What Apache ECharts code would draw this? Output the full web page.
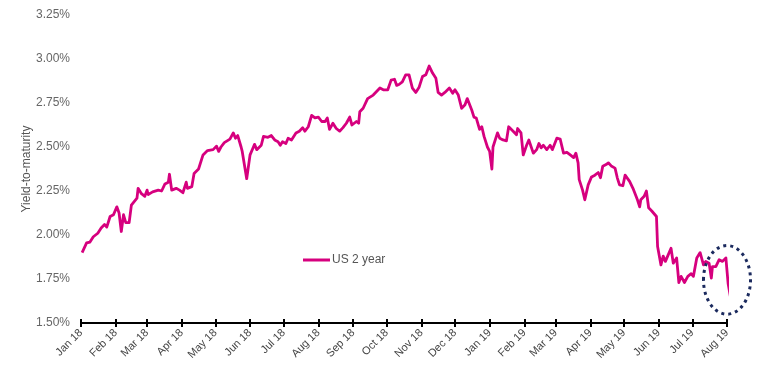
<!DOCTYPE html>
<html>
<head>
<meta charset="utf-8">
<script src="https://cdn.jsdelivr.net/npm/echarts@6/dist/echarts.min.js"></script>
<style>
  html, body { margin: 0; padding: 0; background: #ffffff; }
  #chart { width: 757px; height: 378px; }
</style>
</head>
<body>
<div id="chart"></div>
<script>
// ---- data ----
const seriesName = 'US 2 year';
const dates = [
  '2018-01-02','2018-01-06','2018-01-09','2018-01-12','2018-01-16','2018-01-19','2018-01-22','2018-01-24','2018-01-27','2018-01-30',
  '2018-02-02','2018-02-04','2018-02-06','2018-02-08','2018-02-10','2018-02-13','2018-02-15','2018-02-20','2018-02-21','2018-02-24','2018-02-27',
  '2018-03-01','2018-03-02','2018-03-06','2018-03-11','2018-03-14','2018-03-17','2018-03-20','2018-03-21','2018-03-23','2018-03-27','2018-03-30',
  '2018-04-02','2018-04-05','2018-04-06','2018-04-10','2018-04-12','2018-04-16','2018-04-20','2018-04-24','2018-04-29',
  '2018-05-02','2018-05-04','2018-05-06','2018-05-09','2018-05-14','2018-05-17','2018-05-19','2018-05-21','2018-05-24','2018-05-25','2018-05-29',
  '2018-06-01','2018-06-04','2018-06-05','2018-06-07','2018-06-11','2018-06-13','2018-06-17','2018-06-20','2018-06-23','2018-06-26','2018-06-28','2018-06-30',
  '2018-07-03','2018-07-05','2018-07-08','2018-07-12','2018-07-15','2018-07-18','2018-07-20','2018-07-23','2018-07-26','2018-07-29',
  '2018-08-01','2018-08-04','2018-08-07','2018-08-09','2018-08-11','2018-08-14','2018-08-17','2018-08-20','2018-08-23','2018-08-26','2018-08-29','2018-08-31',
  '2018-09-04','2018-09-06','2018-09-07','2018-09-10','2018-09-14','2018-09-19','2018-09-22','2018-09-25','2018-09-28',
  '2018-10-02','2018-10-05','2018-10-08','2018-10-10','2018-10-12','2018-10-15','2018-10-18','2018-10-21','2018-10-24','2018-10-27','2018-10-30',
  '2018-11-02','2018-11-05','2018-11-08','2018-11-11','2018-11-14','2018-11-16','2018-11-19','2018-11-22','2018-11-26','2018-11-29',
  '2018-12-01','2018-12-04','2018-12-07','2018-12-10','2018-12-12','2018-12-16','2018-12-18','2018-12-20','2018-12-23','2018-12-25','2018-12-27','2018-12-30',
  '2019-01-01','2019-01-03','2019-01-04','2019-01-08','2019-01-10','2019-01-13','2019-01-16','2019-01-18','2019-01-22','2019-01-25','2019-01-26','2019-01-29','2019-01-31',
  '2019-02-03','2019-02-05','2019-02-09','2019-02-12','2019-02-14','2019-02-16','2019-02-18','2019-02-21','2019-02-24','2019-02-26',
  '2019-03-02','2019-03-05','2019-03-08','2019-03-11','2019-03-14','2019-03-17','2019-03-19','2019-03-21','2019-03-22','2019-03-25','2019-03-27','2019-03-30',
  '2019-04-02','2019-04-05','2019-04-08','2019-04-10','2019-04-12','2019-04-15','2019-04-17','2019-04-20','2019-04-23','2019-04-25','2019-04-27','2019-04-30',
  '2019-05-02','2019-05-06','2019-05-09','2019-05-13','2019-05-15','2019-05-16','2019-05-19','2019-05-21','2019-05-23','2019-05-26','2019-05-30','2019-05-31',
  '2019-06-03','2019-06-05','2019-06-07','2019-06-09','2019-06-12','2019-06-14','2019-06-17','2019-06-19','2019-06-21','2019-06-24','2019-06-27','2019-06-30',
  '2019-07-02','2019-07-05','2019-07-08','2019-07-11','2019-07-13','2019-07-16','2019-07-18','2019-07-19','2019-07-22','2019-07-25','2019-07-28','2019-07-31',
  '2019-08-02','2019-08-05'
];
const yields = [
  1.90,1.955,1.96,1.99,2.01,2.04,2.06,2.045,2.105,2.115,
  2.16,2.125,2.02,2.115,2.07,2.07,2.17,2.21,2.265,2.235,2.22,
  2.255,2.23,2.245,2.255,2.25,2.29,2.30,2.345,2.255,2.265,2.255,
  2.24,2.30,2.265,2.275,2.35,2.375,2.455,2.48,2.485,
  2.505,2.475,2.50,2.525,2.545,2.58,2.55,2.565,2.50,2.475,2.32,
  2.455,2.50,2.515,2.485,2.51,2.56,2.555,2.565,2.54,2.53,2.51,2.53,
  2.52,2.55,2.54,2.58,2.59,2.61,2.59,2.615,2.68,2.665,
  2.67,2.645,2.645,2.665,2.60,2.635,2.605,2.59,2.61,2.635,2.67,2.625,
  2.645,2.635,2.70,2.72,2.775,2.795,2.815,2.835,2.825,
  2.825,2.88,2.885,2.85,2.855,2.87,2.91,2.91,2.835,2.81,2.84,
  2.90,2.91,2.96,2.92,2.89,2.81,2.795,2.81,2.835,2.805,
  2.825,2.795,2.72,2.74,2.775,2.71,2.67,2.665,2.60,2.615,2.56,2.50,
  2.475,2.375,2.50,2.58,2.55,2.54,2.535,2.615,2.59,2.57,2.605,2.58,2.455,
  2.51,2.54,2.465,2.485,2.52,2.495,2.51,2.485,2.51,2.485,
  2.55,2.545,2.465,2.47,2.455,2.44,2.465,2.41,2.315,2.255,2.20,2.285,
  2.33,2.34,2.355,2.325,2.39,2.40,2.41,2.39,2.38,2.325,2.285,2.28,
  2.34,2.305,2.265,2.20,2.16,2.20,2.22,2.25,2.155,2.135,2.105,1.935,
  1.83,1.88,1.85,1.88,1.925,1.84,1.87,1.73,1.765,1.73,1.765,1.78,
  1.765,1.87,1.90,1.83,1.85,1.84,1.755,1.82,1.82,1.86,1.85,1.87,
  1.725,1.615
];
const tickDates = [
  '2018-01-01','2018-02-01','2018-03-01','2018-04-01','2018-05-01','2018-06-01','2018-07-01','2018-08-01','2018-09-01','2018-10-01',
  '2018-11-01','2018-12-01','2019-01-01','2019-02-01','2019-03-01','2019-04-01','2019-05-01','2019-06-01','2019-07-01','2019-08-01'
];
const tickLabels = [
  'Jan 18','Feb 18','Mar 18','Apr 18','May 18','Jun 18','Jul 18','Aug 18','Sep 18','Oct 18',
  'Nov 18','Dec 18','Jan 19','Feb 19','Mar 19','Apr 19','May 19','Jun 19','Jul 19','Aug 19'
];
const yMin = 1.5, yMax = 3.25, yStep = 0.25;
// annotation ellipse in data terms: centre date / value, half-width in days, half-height in %
const highlight = { date: '2019-08-01', value: 1.745, halfDays: 21, halfValue: 0.195 };

// ---- chart ----
const toTime = d => echarts.time.parse(d).getTime();
const chart = echarts.init(document.getElementById('chart'), null, { renderer: 'canvas' });
const data = dates.map((d, i) => [toTime(d), yields[i]]);
const tickTimes = tickDates.map(toTime);
const labelFor = v => {
  let best = -1, bd = Infinity;
  tickTimes.forEach((t, i) => { const dd = Math.abs(t - v); if (dd < bd) { bd = dd; best = i; } });
  return bd < 86400000 ? tickLabels[best] : '';
};
const FONT = 'Liberation Sans';
const xMin = tickTimes[0], xMax = tickTimes[tickTimes.length - 1];

const option = {
  backgroundColor: '#ffffff',
  animation: false,
  grid: { left: 81, right: 30, top: 15, bottom: 55, containLabel: false },
  legend: {
    data: [seriesName],
    left: 298, top: 249,
    icon: 'rect', itemWidth: 27, itemHeight: 3, itemGap: 4,
    textStyle: { fontFamily: FONT, fontSize: 12, color: '#555555', padding: [0, 0, 0, -3] }
  },
  xAxis: [{
    type: 'value',
    min: xMin, max: xMax,
    axisLine: { show: true, lineStyle: { color: '#000000', width: 2 } },
    axisTick: { show: true, customValues: tickTimes, length: 4, lineStyle: { color: '#000000', width: 2 } },
    axisLabel: {
      customValues: tickTimes, rotate: 45, margin: 8,
      fontFamily: FONT, fontSize: 11, color: '#444444',
      formatter: v => labelFor(v)
    },
    splitLine: { show: false }
  }, {
    type: 'value', position: 'bottom', gridIndex: 0,
    min: xMin, max: xMax,
    axisLine: { show: false },
    axisTick: { show: true, inside: true, customValues: tickTimes, length: 4, lineStyle: { color: '#000000', width: 2 } },
    axisLabel: { show: false },
    splitLine: { show: false }
  }],
  yAxis: {
    type: 'value', min: yMin, max: yMax, interval: yStep,
    name: 'Yield-to-maturity', nameLocation: 'middle', nameGap: 48,
    nameMoveOverlap: false,
    nameTextStyle: { fontFamily: FONT, fontSize: 12, color: '#555555' },
    axisLine: { show: false }, axisTick: { show: false },
    splitLine: { show: false },
    axisLabel: {
      fontFamily: FONT, fontSize: 12, color: '#666666', margin: 11,
      formatter: v => v.toFixed(2) + '%'
    }
  },
  series: [{
    name: seriesName, type: 'line', data: data,
    xAxisIndex: 0,
    showSymbol: false, symbol: 'none', clip: false,
    lineStyle: { color: '#D6007E', width: 2.8, join: 'round' },
    itemStyle: { color: '#D6007E' }
  }]
};
chart.setOption(option);

// dotted annotation ellipse placed from data coordinates
const t0 = toTime(highlight.date);
const dayMs = 86400000;
const c = chart.convertToPixel({ xAxisIndex: 0, yAxisIndex: 0 }, [t0, highlight.value]);
const e = chart.convertToPixel({ xAxisIndex: 0, yAxisIndex: 0 }, [t0 + highlight.halfDays * dayMs, highlight.value + highlight.halfValue]);
chart.setOption({
  graphic: [{
    type: 'ellipse',
    shape: { cx: c[0], cy: c[1], rx: Math.abs(e[0] - c[0]), ry: Math.abs(c[1] - e[1]) },
    style: { fill: null, stroke: '#1B2A5E', lineWidth: 3, lineDash: [3, 4], lineCap: 'butt' },
    z: 10
  }]
});
</script>
</body>
</html>
